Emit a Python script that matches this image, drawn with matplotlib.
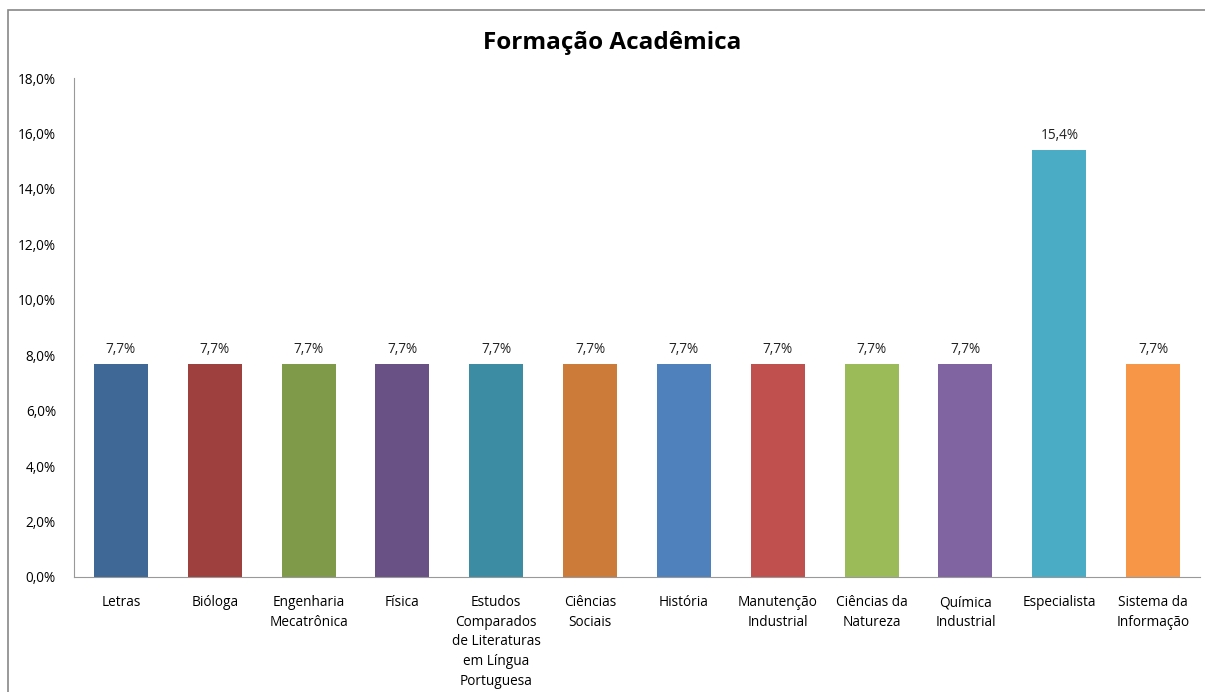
import matplotlib.pyplot as plt
from matplotlib.patches import Rectangle
from matplotlib.ticker import FuncFormatter

plt.rcParams['font.family'] = ['Open Sans', 'DejaVu Sans']

categorias = ['Letras', 'Bióloga', 'Engenharia\nMecatrônica', 'Física',
              'Estudos\nComparados\nde Literaturas\nem Língua\nPortuguesa',
              'Ciências\nSociais', 'História', 'Manutenção\nIndustrial',
              'Ciências da\nNatureza', 'Química\nIndustrial', 'Especialista',
              'Sistema da\nInformação']
valores = [7.7, 7.7, 7.7, 7.7, 7.7, 7.7, 7.7, 7.7, 7.7, 7.7, 15.4, 7.7]
cores = ['#3F6897', '#9E413E', '#7F9A48', '#695185', '#3C8DA3', '#CC7B38',
         '#4F81BD', '#C0504D', '#9BBB59', '#8064A2', '#4BACC6', '#F79646']
y_ticks = [0, 2, 4, 6, 8, 10, 12, 14, 16, 18]

fig = plt.figure(figsize=(12.05, 6.92), dpi=100)
ax = fig.add_axes([74 / 1205, 1 - 577 / 692, 1126 / 1205, (577 - 78) / 692])

# moldura cinza do gráfico
fig.patches.append(Rectangle((8 / 1205, -0.1), 1.2, 1 - 10 / 692 + 0.1,
                             transform=fig.transFigure, fill=False,
                             edgecolor='#888888', linewidth=1.2))

x = list(range(len(categorias)))
barras = ax.bar(x, valores, width=0.575, color=cores, edgecolor='none')

for xi, v in zip(x, valores):
    ax.text(xi, v + 0.25, f'{v:.1f}%'.replace('.', ','), ha='center',
            va='bottom', fontsize=9.8, color='#222222')

ax.set_xlim(-0.5, len(categorias) - 0.5)
ax.set_ylim(0, 18)
ax.set_yticks(y_ticks)
ax.yaxis.set_major_formatter(FuncFormatter(lambda v, p: f'{v:.1f}%'.replace('.', ',')))
ax.set_xticks(x)
ax.set_xticklabels(categorias, fontsize=9.8, linespacing=1.42)
ax.tick_params(axis='y', length=0, labelsize=9.8, pad=13)
ax.tick_params(axis='x', length=0, pad=13)

for s in ['top', 'right']:
    ax.spines[s].set_visible(False)
ax.spines['left'].set_color('#999999')
ax.spines['bottom'].set_color('#999999')

fig.text(612 / 1205, 1 - 43 / 692, 'Formação Acadêmica', ha='center',
         va='center', fontsize=17.5, fontweight='bold')

plt.savefig('out.png', dpi=100)
